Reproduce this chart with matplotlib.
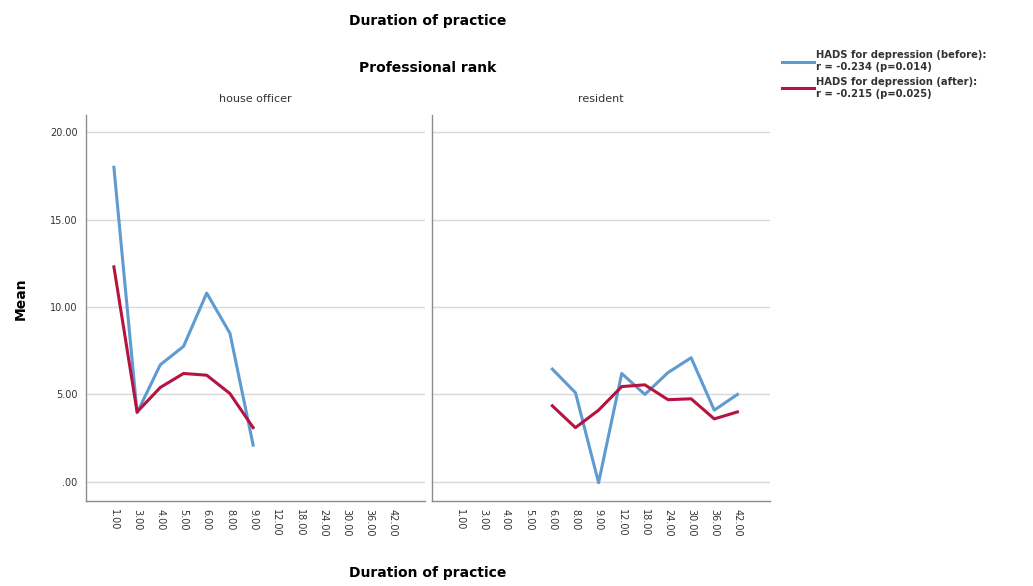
import numpy as np
import matplotlib.pyplot as plt
from matplotlib.ticker import FuncFormatter

categories = ["1.00", "3.00", "4.00", "5.00", "6.00", "8.00", "9.00",
              "12.00", "18.00", "24.00", "30.00", "36.00", "42.00"]
panels = ["house officer", "resident"]

# house officer: categories 1.00 .. 9.00
ho_before = [18.0, 3.95, 6.7, 7.75, 10.8, 8.5, 2.1]
ho_after = [12.3, 4.0, 5.4, 6.2, 6.1, 5.05, 3.1]

# resident: categories 6.00 .. 42.00
res_before = [6.45, 5.1, -0.05, 6.2, 5.0, 6.25, 7.1, 4.1, 5.0]
res_after = [4.35, 3.1, 4.1, 5.45, 5.55, 4.7, 4.75, 3.6, 4.0]

label_before = "HADS for depression (before):\nr = -0.234 (p=0.014)"
label_after = "HADS for depression (after):\nr = -0.215 (p=0.025)"

blue = "#5e9bd1"
red = "#b4143f"
grid_col = "#d9d9d9"
spine_col = "#8c8c8c"


def fmt(v, pos):
    s = f"{v:.2f}"
    return s[1:] if s.startswith("0") else s


def main():
    fig = plt.figure(figsize=(10.33, 5.86), dpi=100)
    boxes = [[0.0833, 0.145, 0.328, 0.659], [0.4182, 0.145, 0.327, 0.659]]
    x = np.arange(len(categories))
    series = [
        (ho_before, ho_after, 0),
        (res_before, res_after, 4),
    ]
    axes = []
    for i, (box, name) in enumerate(zip(boxes, panels)):
        ax = fig.add_axes(box)
        axes.append(ax)
        before, after, start = series[i]
        xs = x[start:start + len(before)]
        ax.plot(xs, before, color=blue, lw=2.2, label=label_before, zorder=3)
        ax.plot(xs, after, color=red, lw=2.2, label=label_after, zorder=3)
        ax.set_xlim(-1.2, 13.4)
        ax.set_ylim(-1.1, 21.0)
        ax.set_yticks([0, 5, 10, 15, 20])
        ax.yaxis.set_major_formatter(FuncFormatter(fmt))
        ax.grid(axis="y", color=grid_col, lw=1.0)
        ax.set_axisbelow(True)
        ax.set_xticks(x)
        ax.set_xticklabels(categories, rotation=270, fontsize=7, color="#333333")
        ax.tick_params(axis="both", length=0, pad=6)
        ax.tick_params(axis="y", labelsize=7, colors="#333333")
        for side in ["top", "right"]:
            ax.spines[side].set_visible(False)
        for side in ["left", "bottom"]:
            ax.spines[side].set_color(spine_col)
            ax.spines[side].set_linewidth(1.0)
        ax.set_title(name, fontsize=8, color="#333333", pad=9)
        if i == 1:
            ax.set_yticklabels([])

    fig.text(0.414, 0.965, "Duration of practice", ha="center", va="center",
             fontsize=10, fontweight="bold")
    fig.text(0.414, 0.884, "Professional rank", ha="center", va="center",
             fontsize=10, fontweight="bold")
    fig.text(0.414, 0.022, "Duration of practice", ha="center", va="center",
             fontsize=10, fontweight="bold")
    fig.text(0.02, 0.49, "Mean", ha="center", va="center", rotation=90,
             fontsize=10, fontweight="bold")

    handles, labels = axes[0].get_legend_handles_labels()
    leg = fig.legend(handles, labels, loc="upper left", bbox_to_anchor=(0.748, 0.93),
                     frameon=False, handlelength=3.2, handletextpad=0.25,
                     labelspacing=0.45, prop={"weight": "bold", "size": 7.2})
    for t in leg.get_texts():
        t.set_linespacing(1.25)
        t.set_color("#333333")

    fig.savefig("out.png", dpi=100)
    plt.close(fig)


if __name__ == "__main__":
    main()
